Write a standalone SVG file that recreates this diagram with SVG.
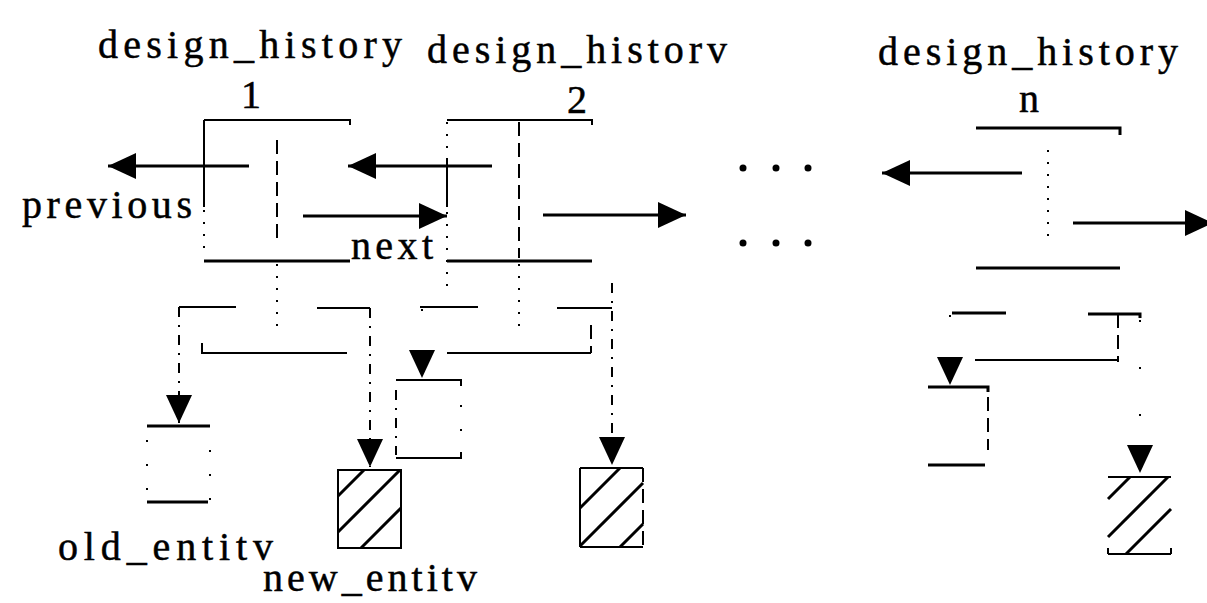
<svg xmlns="http://www.w3.org/2000/svg" width="1207" height="603" viewBox="0 0 1207 603">
  <style>
    .ln { stroke: #000; stroke-width: 2; fill: none; }
    .bold { stroke-width: 3; }
    .dash { stroke-dasharray: 14 7; }
    .dashdot { stroke-dasharray: 10 8 2 8; }
    .dot { stroke-dasharray: 2 10; }
    .sparse { stroke-dasharray: 2 22; }
    .faint { stroke-dasharray: 2 45; }
    .hatch { stroke: #000; stroke-width: 3; }
    .lbl { font-family: "Liberation Serif", "DejaVu Serif", serif; font-size: 40px; fill: #000; stroke: #000; stroke-width: 0.5; }
  </style>
  <defs>
    <marker id="head" viewBox="0 0 28 26" refX="28" refY="13" markerWidth="28" markerHeight="26" markerUnits="userSpaceOnUse" orient="auto">
      <path d="M0,0 L28,13 L0,26 Z" fill="#000" stroke="none"/>
    </marker>
  </defs>

  <!-- record 1 -->
  <g id="history-1">
    <text class="lbl" x="98" y="58" textLength="304" lengthAdjust="spacing">design_history</text>
    <text class="lbl" x="251" y="108" text-anchor="middle">1</text>
    <path class="ln" d="M204,120 H350 V125"/>
    <path class="ln" d="M204,120 V207"/>
    <path class="ln dot" d="M204,210 V258"/>
    <path class="ln dash" d="M277,140 V240"/>
    <path class="ln bold" d="M204,261 H350"/>
    <path class="ln dot" d="M277,264 V334"/>
    <path class="ln" d="M179,307 H236"/>
    <path class="ln" d="M317,308 H370"/>
    <path class="ln" d="M202,343 V353 H347"/>
  </g>

  <!-- record 2 -->
  <g id="history-2">
    <text class="lbl" x="427" y="63" textLength="300" lengthAdjust="spacing">design_historv</text>
    <text class="lbl" x="577" y="113" text-anchor="middle">2</text>
    <path class="ln" d="M447,120 H592 V125"/>
    <path class="ln dot" d="M447,122 V160"/>
    <path class="ln" d="M447,160 V207"/>
    <path class="ln dot" d="M447,212 V292"/>
    <path class="ln dash" d="M519,122 V258"/>
    <path class="ln bold" d="M447,261 H592"/>
    <path class="ln dot" d="M519,264 V332"/>
    <path class="ln" d="M420,307 H478"/>
    <path class="ln" d="M557,308 H612"/>
    <path class="ln" d="M447,353 H591"/>
    <path class="ln dash" d="M591,325 V353"/>
  </g>

  <!-- record n -->
  <g id="history-n">
    <text class="lbl" x="878" y="65" textLength="300" lengthAdjust="spacing">design_history</text>
    <text class="lbl" x="1029" y="112" text-anchor="middle">n</text>
    <path class="ln bold" d="M976,128 H1120 V135"/>
    <path class="ln dot" d="M1048,150 V245"/>
    <path class="ln bold" d="M976,268 H1120"/>
    <path class="ln bold" d="M952,313 H1006"/>
    <path class="ln bold" d="M1088,314 H1140 V318"/>
    <path class="ln dash" d="M1118,314 V362"/>
    <path class="ln" d="M975,360 H1118"/>
  </g>

  <!-- old entities -->
  <g id="old-entity-1">
    <path class="ln bold" d="M147,426 H210"/>
    <path class="ln bold" d="M147,502 H208"/>
    <path class="ln sparse" d="M147,440 V500"/>
    <path class="ln sparse" d="M210,450 V500"/>
    <text class="lbl" x="58" y="560" textLength="215" lengthAdjust="spacing">old_entitv</text>
  </g>
  <g id="old-entity-2">
    <path class="ln" d="M396,380 H461 V386"/>
    <path class="ln" d="M396,458 H461 V452"/>
    <path class="ln dashdot" d="M396,390 V455"/>
    <path class="ln sparse" d="M461,405 V450"/>
  </g>
  <g id="old-entity-n">
    <path class="ln bold" d="M928,387 H988 V392"/>
    <path class="ln bold" d="M928,465 H985"/>
    <path class="ln dash" d="M988,397 V450"/>
  </g>

  <!-- new entities (hatched) -->
  <g id="new-entity-1">
    <rect class="ln" x="338" y="470" width="63" height="78"/>
    <line class="hatch" x1="338" y1="496" x2="364" y2="470"/>
    <line class="hatch" x1="338" y1="532" x2="400" y2="470"/>
    <line class="hatch" x1="361" y1="548" x2="401" y2="508"/>
    <text class="lbl" x="263" y="591" textLength="214" lengthAdjust="spacing">new_entitv</text>
  </g>
  <g id="new-entity-2">
    <path class="ln" d="M580,468 H643 M580,547 H643 M580,468 V547"/>
    <path class="ln dash" d="M643,468 V547"/>
    <line class="hatch" x1="580" y1="508" x2="620" y2="468"/>
    <line class="hatch" x1="580" y1="546" x2="643" y2="483"/>
    <line class="hatch" x1="620" y1="547" x2="643" y2="524"/>
  </g>
  <g id="new-entity-n">
    <path class="ln" d="M1108,477 H1171 M1108,554 H1171 M1108,548 V554 M1171,548 V554"/>
    <line class="hatch" x1="1108" y1="499" x2="1130" y2="477"/>
    <line class="hatch" x1="1108" y1="537" x2="1168" y2="477"/>
    <line class="hatch" x1="1126" y1="554" x2="1171" y2="509"/>
  </g>

  <!-- ellipsis between record 2 and record n -->
  <g id="ellipsis" fill="#000">
    <circle cx="743" cy="168" r="3.5"/>
    <circle cx="776" cy="168" r="3.5"/>
    <circle cx="808" cy="168" r="3.5"/>
    <circle cx="743" cy="243" r="3.5"/>
    <circle cx="776" cy="243" r="3.5"/>
    <circle cx="808" cy="243" r="3.5"/>
  </g>

  <!-- previous / next links and entity pointers -->
  <g id="connectors">
    <text class="lbl" x="22" y="218" textLength="170" lengthAdjust="spacing">previous</text>
    <text class="lbl" x="351" y="259" textLength="82" lengthAdjust="spacing">next</text>
    <path class="ln bold" d="M249,166 H108" marker-end="url(#head)"/>
    <path class="ln bold" d="M303,216 H447" marker-end="url(#head)"/>
    <path class="ln bold" d="M492,166 H348" marker-end="url(#head)"/>
    <path class="ln bold" d="M543,215 H686" marker-end="url(#head)"/>
    <path class="ln bold" d="M1022,173 H882" marker-end="url(#head)"/>
    <path class="ln bold" d="M1073,223 H1213" marker-end="url(#head)"/>

    <path class="ln dashdot" d="M179,307 V423" marker-end="url(#head)"/>
    <path class="ln dashdot" d="M370,308 V467" marker-end="url(#head)"/>
    <path class="ln faint" d="M422,309 V378" marker-end="url(#head)"/>
    <path class="ln dashdot" d="M612,283 V465" marker-end="url(#head)"/>
    <path class="ln faint" d="M950,315 V385" marker-end="url(#head)"/>
    <path class="ln faint" d="M1140,320 V473" marker-end="url(#head)"/>
  </g>
</svg>
